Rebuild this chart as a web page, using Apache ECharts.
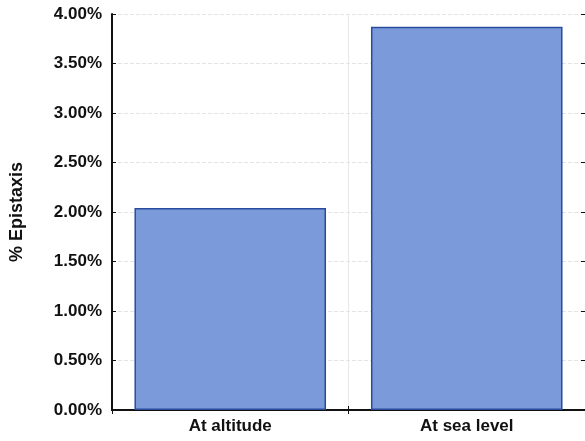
<!DOCTYPE html>
<html><head><meta charset="utf-8">
<script src="https://cdn.jsdelivr.net/npm/echarts@6/dist/echarts.min.js"></script>
<style>html,body{margin:0;padding:0;background:#fff}#c{width:585px;height:441px}</style>
</head><body><div id="c"></div>
<script>
const categories = ["At altitude", "At sea level"];
const values = [2.04, 3.87];
const yTicks = [0, 0.5, 1, 1.5, 2, 2.5, 3, 3.5, 4];
const yTitle = "% Epistaxis";

const chart = echarts.init(document.getElementById('c'));
const font = "Liberation Sans, Arial, sans-serif";
chart.setOption({
  animation: false,
  grid: {left: 112, right: 0, top: 14, bottom: 31, containLabel: false},
  xAxis: [{
    type: 'category', data: categories,
    axisLine: {lineStyle: {color: '#111', width: 2}},
    axisTick: {show: true, inside: true, length: 4, lineStyle: {color: '#111'}},
    axisLabel: {color: '#111', fontWeight: 'bold', fontSize: 17, fontFamily: font, margin: 8},
    splitLine: {show: true, lineStyle: {color: '#e8e8e8', width: 1}}
  }, {
    type: 'category', data: categories, position: 'top',
    axisLine: {lineStyle: {color: '#111', width: 2}},
    axisTick: {show: true, inside: true, length: 4, lineStyle: {color: '#111'}},
    axisLabel: {show: false}
  }],
  yAxis: [{
    type: 'value', min: 0, max: 4, interval: 0.5,
    name: yTitle, nameLocation: 'middle', nameGap: 86, nameRotate: 90,
    nameTextStyle: {color: '#111', fontWeight: 'bold', fontSize: 18, fontFamily: font},
    axisLine: {show: true, lineStyle: {color: '#111', width: 2}},
    axisTick: {show: true, inside: true, length: 4, lineStyle: {color: '#111'}},
    axisLabel: {color: '#111', fontWeight: 'bold', fontSize: 17, fontFamily: font, margin: 10,
      formatter: v => yTicks.includes(v) ? v.toFixed(2) + '%' : ''},
    splitLine: {show: true, lineStyle: {color: '#e4e4e4', width: 1, type: 'dashed'}}
  }, {
    type: 'value', min: 0, max: 4, interval: 0.5, position: 'right',
    axisLine: {show: true, lineStyle: {color: '#111', width: 1}},
    axisTick: {show: true, inside: true, length: 4, lineStyle: {color: '#111'}},
    axisLabel: {show: false}, splitLine: {show: false}
  }],
  series: [{
    type: 'bar', data: values, barWidth: '81%',
    itemStyle: {color: '#7a9ad9', borderColor: '#2a4c9e', borderWidth: 1.5}
  }]
});
</script></body></html>
